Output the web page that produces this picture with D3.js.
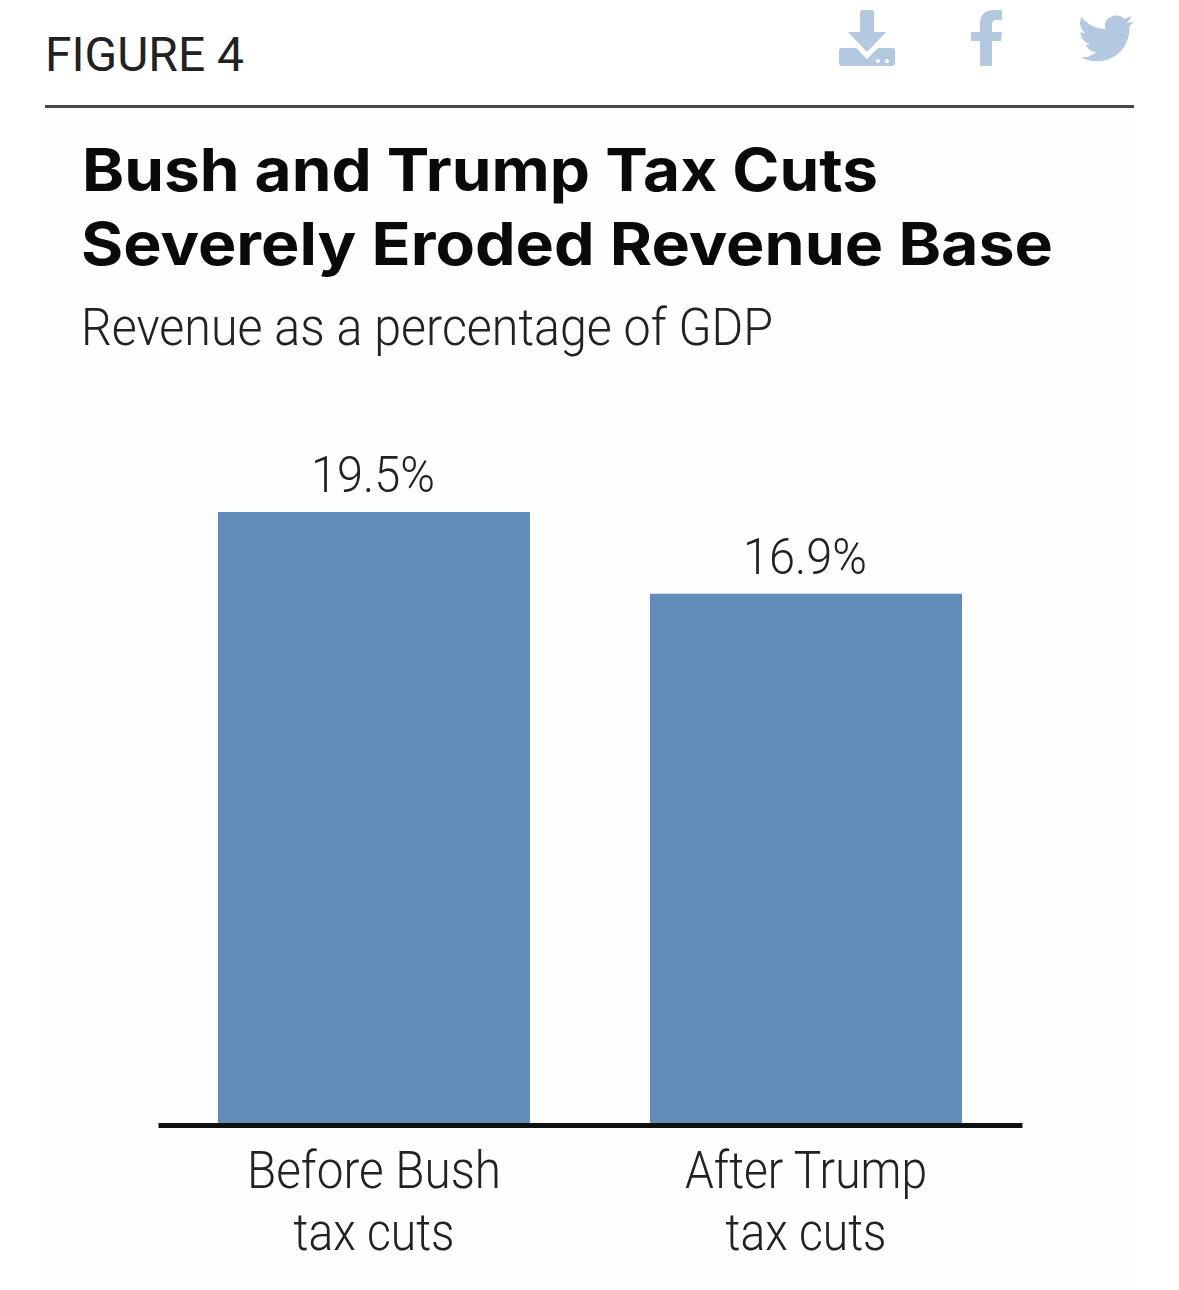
<!DOCTYPE html>
<html>
<head>
<meta charset="utf-8">
<style>
html, body { margin: 0; padding: 0; background: #fff; }
svg { display: block; }
</style>
<script src="https://cdn.jsdelivr.net/npm/d3@7"></script>
</head>
<body>
<svg id="chart"></svg>
<script>
const categories = ["Before Bush|tax cuts", "After Trump|tax cuts"];
const revenue = [19.5, 16.9];
const valueLabels = ["19.5%", "16.9%"];
const titleLines = ["Bush and Trump Tax Cuts", "Severely Eroded Revenue Base"];

const width = 1179, height = 1290;
const svg = d3.select("#chart").attr("width", width).attr("height", height);

// the source font is narrower/wider than what is installed, so squeeze text to its measured width
const fit = (sel, len) => sel.attr("textLength", len).attr("lengthAdjust", "spacingAndGlyphs");

// very faint panel behind the chart, as in the screenshot
svg.append("rect").attr("x", 45).attr("y", 108).attr("width", 1089).attr("height", 1182).attr("fill", "#fefefe");

const x = d3.scaleBand().domain(categories).range([158, 1022]).paddingInner(120 / 432).paddingOuter(60 / 432);
const y = d3.scaleLinear().domain([0, 19.5]).range([1125, 512]);

svg.append("text").attr("x", 45).attr("y", 71)
  .attr("font-family", "Roboto").attr("font-size", 48).attr("fill", "#222").text("FIGURE 4")
  .call(fit, 199);
svg.append("line").attr("x1", 45).attr("x2", 1134).attr("y1", 106.5).attr("y2", 106.5)
  .attr("stroke", "#484848").attr("stroke-width", 3);

// share icons
const icons = svg.append("g").attr("fill", "#b3c9df");
icons.append("path").attr("d", "M862 10h10q2 0 2 2v20h12l-19 20-19-20h12V12q0-2 2-2z");
icons.append("path").attr("d", "M842 48h14l11 11 11-11h14q3 0 3 3v12q0 3-3 3h-50q-3 0-3-3v-12q0-3 3-3z");
icons.append("g").attr("fill", "#fff").selectAll("circle").data([878, 887]).join("circle")
  .attr("cx", d => d).attr("cy", 61).attr("r", 2);
icons.append("path").attr("d", "M980 66V41h-9V32h9v-8c0-9 5-14 14-14h8v10h-5c-4 0-5 2-5 5v7h10l-1 9h-9v25z");
icons.append("path").attr("transform", "translate(1.5,0)")
  .attr("d", "M1132 21c-2 1-4 2-7 2 2-2 4-4 5-7-2 1-5 2-7 3-5-6-16-4-19 3-1 3-1 5 0 7-10 0-19-5-24-12-3 6-1 13 4 16-2 0-4 0-5-1 0 6 4 11 10 12-2 1-4 1-5 0 2 5 6 8 11 8-5 4-10 6-16 5 22 12 50-2 49-31 1-1 3-3 4-5z");

svg.append("g").attr("font-family", "Inter, 'Liberation Sans'").attr("font-weight", 700).attr("font-size", 59).attr("fill", "#0a0a0a")
  .selectAll("text").data(titleLines).join("text")
  .attr("x", (d, i) => i ? 81 : 82).attr("y", (d, i) => i ? 265 : 191).text(d => d)
  .attr("textLength", (d, i) => i ? 972 : 796).attr("lengthAdjust", "spacingAndGlyphs");

svg.append("text").attr("x", 81).attr("y", 345)
  .attr("font-family", "Roboto").attr("font-weight", 300).attr("font-size", 51).attr("fill", "#222")
  .text("Revenue as a percentage of GDP")
  .call(fit, 692);

svg.append("g").selectAll("rect").data(revenue).join("rect")
  .attr("x", (d, i) => x(categories[i]))
  .attr("y", d => y(d))
  .attr("width", x.bandwidth())
  .attr("height", d => y(0) - y(d))
  .attr("fill", "#638db9");

svg.append("g").selectAll("text").data(revenue).join("text")
  .attr("x", (d, i) => x(categories[i]) + x.bandwidth() / 2 - 1)
  .attr("y", d => y(d) - 20)
  .attr("text-anchor", "middle")
  .attr("font-family", "Roboto").attr("font-weight", 300).attr("font-size", 50).attr("fill", "#222")
  .text((d, i) => valueLabels[i])
  .call(fit, 124);

// baseline and two-line category labels
const axis = svg.append("g").attr("transform", `translate(0,${y(0)})`)
  .call(d3.axisBottom(x).tickSize(0).tickFormat(""));
axis.select(".domain").attr("stroke", "#111").attr("stroke-width", 5);
axis.selectAll(".tick text").remove();

const labelLengths = { "Before Bush": 254, "After Trump": 242, "tax cuts": 161 };
const labels = svg.append("g").selectAll("text").data(categories).join("text")
  .attr("text-anchor", "middle")
  .attr("font-family", "Roboto").attr("font-weight", 300).attr("font-size", 51).attr("fill", "#222");
labels.selectAll("tspan").data(d => d.split("|").map(t => [d, t])).join("tspan")
  .attr("x", d => x(d[0]) + x.bandwidth() / 2)
  .attr("y", (d, i) => i ? 1250 : 1188)
  .text(d => d[1])
  .attr("textLength", d => labelLengths[d[1]]).attr("lengthAdjust", "spacingAndGlyphs");
</script>
</body>
</html>
